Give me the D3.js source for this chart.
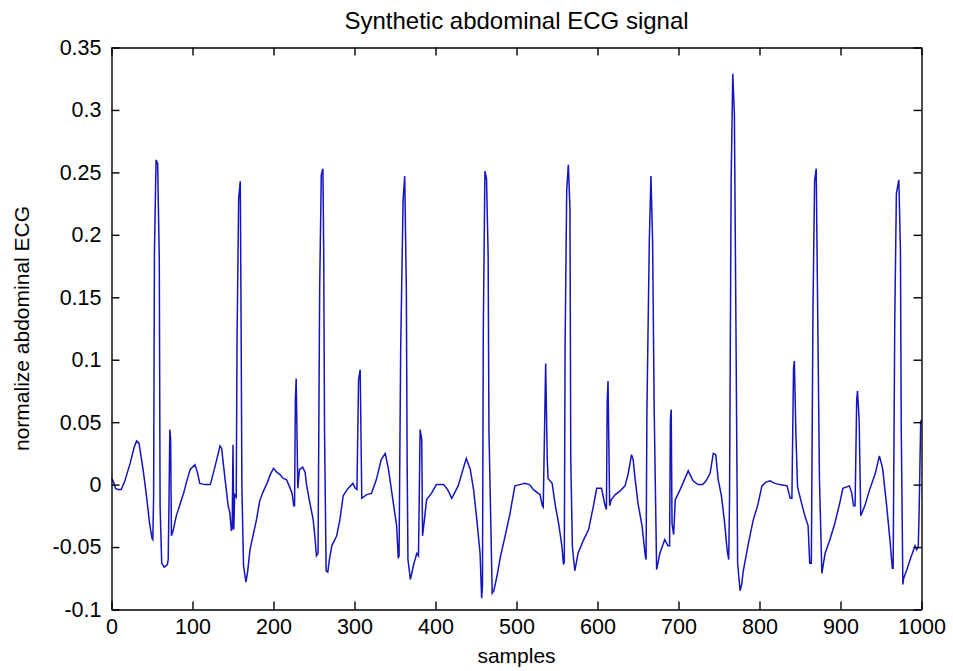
<!DOCTYPE html>
<html>
<head>
<meta charset="utf-8">
<script src="https://cdn.jsdelivr.net/npm/d3@7/dist/d3.min.js"></script>
<style>
  html, body { margin: 0; padding: 0; background: #ffffff; }
  svg { display: block; }
  text { font-family: "Liberation Sans", Arial, Helvetica, sans-serif; }
</style>
</head>
<body>
<div id="chart"></div>
<script>
// ---- data ----
const chartTitle = "Synthetic abdominal ECG signal";
const xLabel = "samples";
const yLabel = "normalize abdominal ECG";

const samples = [
  0,2,5,8,12,16,23,28,31,34,39,43,47,50,51,52,53,55,57,59,60,62,65,69,70,71,72,73,74,76,
  80,85,89,93,97,103,106,109,115,122,128,134,136,138,141,144,146,148,149,150,151,152,154,155,157,159,160,161,163,166,
  168,171,175,179,183,187,192,196,200,204,208,212,216,220,223,225,226,227,228,230,232,236,239,241,245,249,251,253,255,257,
  259,261,262,263,265,267,269,272,278,282,286,292,298,301,303,305,307,309,315,321,327,333,338,342,348,352,354,355,357,360,
  362,364,365,366,369,373,377,379,381,383,384,386,389,395,401,410,415,420,424,428,433,438,443,447,451,455,457,458,459,461,
  463,465,466,470,472,476,480,486,492,498,504,510,516,521,529,532,533,535,536,538,539,544,548,552,556,558,559,560,562,564,
  566,567,569,572,574,576,583,589,595,599,605,609,611,612,613,615,617,622,628,634,638,642,644,646,650,655,659,660,661,664,
  666,668,670,673,677,683,687,689,690,691,692,694,696,702,708,712,718,724,730,734,739,743,746,749,753,757,760,762,763,765,
  767,769,771,773,776,778,780,786,792,798,803,808,813,819,825,834,838,840,842,843,845,847,852,856,860,862,864,866,868,870,
  872,874,877,881,887,893,899,903,911,914,916,918,920,921,923,925,930,936,943,948,952,957,961,964,965,967,969,972,974,975,
  977,978,982,986,992,994,996,997,999,1000
];

const abdominalECG = [
  0.005,0.003,-0.003,-0.004,-0.004,0.002,0.017,0.030,0.035,0.033,0.012,-0.008,-0.031,-0.043,-0.044,-0.010,0.185,0.260,0.257,0.179,-0.018,-0.063,-0.066,-0.064,-0.060,-0.013,0.044,0.036,-0.041,-0.037,
  -0.025,-0.015,-0.007,0.003,0.012,0.016,0.010,0.001,0.000,0.000,0.015,0.031,0.029,0.017,0.000,-0.017,-0.022,-0.037,-0.035,0.032,-0.036,-0.008,-0.010,0.117,0.229,0.243,0.129,-0.003,-0.065,-0.078,
  -0.070,-0.052,-0.040,-0.028,-0.013,-0.006,0.001,0.008,0.013,0.010,0.008,0.005,0.004,-0.002,-0.007,-0.017,-0.017,0.068,0.085,-0.003,0.012,0.014,0.010,-0.001,-0.015,-0.028,-0.041,-0.057,-0.055,0.157,
  0.248,0.253,0.185,0.043,-0.069,-0.070,-0.060,-0.049,-0.041,-0.028,-0.009,-0.003,0.001,-0.003,-0.004,0.084,0.092,-0.011,-0.008,-0.007,0.004,0.020,0.025,0.012,-0.015,-0.033,-0.059,-0.057,0.108,0.228,
  0.247,0.156,0.018,-0.060,-0.076,-0.064,-0.055,-0.057,0.044,0.036,-0.041,-0.030,-0.012,-0.007,0.000,0.000,-0.004,-0.011,-0.006,-0.001,0.010,0.021,0.012,-0.004,-0.028,-0.055,-0.091,-0.080,0.123,0.251,
  0.245,0.183,0.043,-0.087,-0.085,-0.073,-0.058,-0.041,-0.023,-0.001,0.000,0.001,0.000,-0.004,-0.008,-0.017,-0.018,0.058,0.097,0.020,0.005,0.001,-0.017,-0.031,-0.049,-0.064,-0.062,0.112,0.236,0.256,
  0.221,0.020,-0.050,-0.069,-0.062,-0.055,-0.044,-0.036,-0.017,-0.003,-0.003,-0.016,-0.020,0.067,0.083,-0.017,-0.012,-0.008,-0.005,-0.001,0.009,0.024,0.020,0.007,-0.015,-0.033,-0.057,-0.060,0.059,0.196,
  0.247,0.196,0.059,-0.068,-0.055,-0.044,-0.049,-0.049,0.052,0.060,-0.031,-0.040,-0.012,-0.004,0.005,0.011,0.003,0.000,0.000,0.003,0.009,0.025,0.024,0.004,-0.009,-0.031,-0.052,-0.060,-0.012,0.244,
  0.329,0.297,0.119,-0.063,-0.085,-0.080,-0.069,-0.048,-0.029,-0.016,-0.001,0.002,0.003,0.001,0.000,-0.001,-0.011,-0.011,0.093,0.099,0.039,-0.002,-0.015,-0.025,-0.033,-0.063,-0.063,0.139,0.243,0.253,
  0.129,0.004,-0.071,-0.055,-0.044,-0.031,-0.015,-0.003,-0.001,-0.007,-0.017,-0.017,0.068,0.075,0.052,-0.025,-0.017,-0.004,0.009,0.023,0.013,-0.017,-0.044,-0.067,-0.067,0.132,0.233,0.244,0.188,0.045,
  -0.080,-0.075,-0.068,-0.060,-0.049,-0.052,-0.050,-0.024,0.050,0.052
];

const xTicks = [0, 100, 200, 300, 400, 500, 600, 700, 800, 900, 1000];
const xTickLabels = ["0", "100", "200", "300", "400", "500", "600", "700", "800", "900", "1000"];
const yTicks = [-0.1, -0.05, 0, 0.05, 0.1, 0.15, 0.2, 0.25, 0.3, 0.35];
const yTickLabels = ["-0.1", "-0.05", "0", "0.05", "0.1", "0.15", "0.2", "0.25", "0.3", "0.35"];
const xDomain = [0, 1000];
const yDomain = [-0.1, 0.35];

// ---- layout ----
const W = 953, H = 671;
const margin = { left: 111.5, right: 31.5, top: 47.5, bottom: 61.5 };
const iw = W - margin.left - margin.right;
const ih = H - margin.top - margin.bottom;

const svg = d3.select("#chart").append("svg")
  .attr("width", W).attr("height", H)
  .style("background", "#ffffff");

const x = d3.scaleLinear().domain(xDomain).range([margin.left, margin.left + iw]);
const y = d3.scaleLinear().domain(yDomain).range([margin.top + ih, margin.top]);

const data = samples.map((s, i) => ({ s: s, v: abdominalECG[i] }));

// signal line
const line = d3.line().x(d => x(d.s)).y(d => y(d.v));
svg.append("path")
  .datum(data)
  .attr("d", line)
  .attr("fill", "none")
  .attr("stroke", "#1414c0")
  .attr("stroke-width", 1.5)
  .attr("stroke-linejoin", "miter");

const fontSize = 21.5;
const xLab = d => xTickLabels[xTicks.indexOf(d)];
const yLab = d => yTickLabels[yTicks.indexOf(d)];

// bottom axis
const gB = svg.append("g").attr("transform", `translate(0,${margin.top + ih})`)
  .call(d3.axisBottom(x).tickValues(xTicks).tickFormat(xLab).tickSizeInner(-8).tickSizeOuter(0).tickPadding(9));
// top axis (ticks only)
const gT = svg.append("g").attr("transform", `translate(0,${margin.top})`)
  .call(d3.axisTop(x).tickValues(xTicks).tickFormat("").tickSizeInner(-8).tickSizeOuter(0));
// left axis
const gL = svg.append("g").attr("transform", `translate(${margin.left},0)`)
  .call(d3.axisLeft(y).tickValues(yTicks).tickFormat(yLab).tickSizeInner(-8).tickSizeOuter(0).tickPadding(10));
// right axis (ticks only)
const gR = svg.append("g").attr("transform", `translate(${margin.left + iw},0)`)
  .call(d3.axisRight(y).tickValues(yTicks).tickFormat("").tickSizeInner(-8).tickSizeOuter(0));

[gB, gT, gL, gR].forEach(g => {
  g.selectAll(".domain").attr("stroke", "#000").attr("stroke-width", 1.4);
  g.selectAll(".tick line").attr("stroke", "#000").attr("stroke-width", 1.4);
  g.selectAll("text").attr("fill", "#000")
    .style("font-family", '"Liberation Sans", Arial, sans-serif')
    .style("font-size", fontSize + "px");
});

// title and labels
svg.append("text")
  .attr("x", margin.left + iw / 2).attr("y", 29)
  .attr("text-anchor", "middle")
  .style("font-size", "24px").attr("fill", "#000")
  .text(chartTitle);

svg.append("text")
  .attr("x", margin.left + iw / 2).attr("y", 663)
  .attr("text-anchor", "middle")
  .style("font-size", "21px").attr("fill", "#000")
  .text(xLabel);

svg.append("text")
  .attr("transform", `translate(29,${margin.top + ih / 2}) rotate(-90)`)
  .attr("text-anchor", "middle")
  .style("font-size", "21px").attr("fill", "#000")
  .text(yLabel);
</script>
</body>
</html>
